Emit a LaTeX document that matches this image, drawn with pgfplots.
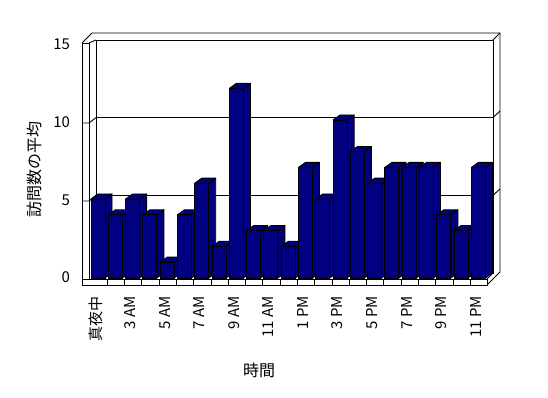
\documentclass[border=0pt]{standalone}
\usepackage{fontspec}
\setmainfont{Noto Sans CJK JP}
\usepackage{pgfplots}
\usepackage{pgfplotstable}
\pgfplotsset{compat=1.18}
\definecolor{barnavy}{RGB}{0,0,128}
\pgfdeclareplotmark{empty}{}
\pgfplotstableread{
hour visits
0 5
1 4
2 5
3 4
4 1
5 4
6 6
7 2
8 12
9 3
10 3
11 2
12 7
13 5
14 10
15 8
16 6
17 7
18 7
19 7
20 4
21 3
22 7
}\datatable
\begin{document}
\begin{tikzpicture}[font=\fontsize{15bp}{18bp}\selectfont, line width=0.9bp]
\useasboundingbox (0,0) rectangle (548bp,398bp);
\fill[white] (0,0) rectangle (548bp,398bp);
% back wall
\begin{axis}[at={(96bp,125bp)}, anchor=south west, scale only axis,
  width=397bp, height=233bp, xmin=0, xmax=1, ymin=0, ymax=15,
  xtick=\empty, ytick={0,5,10,15}, yticklabels={0,5,10,15},
  major tick length=0pt, ymajorgrids,
  grid style={black,line width=0.9bp},
  axis line style={black,line width=0.9bp},
  yticklabel style={xshift=-22.5bp,yshift=-4.5bp}]
\end{axis}
% walls and floor
\begin{scope}[x=1bp,y=-1bp,yshift=398bp,line width=0.9bp,line join=round]
  \draw[fill=white] (82,43) rectangle (89,285);
  \draw (89,43) -- (96,40);
  \draw (82,43) -- (92,33) -- (500,33) -- (500,272) -- (487,285);
  \draw (493,40) -- (500,33);
  \draw[fill=white] (82,279) rectangle (487,285);
  \foreach \k in {0,...,21} { \draw ({107.3+17.29*\k},279) -- ({107.3+17.29*\k},285); }
  \draw (487,279) -- (493,273);
  \draw (82,123) -- (89,123) -- (96,117.7);
  \draw (82,201) -- (89,201) -- (96,195.3);
  \draw (493,117.7) -- (500,111);
  \draw (493,195.3) -- (500,189);
\end{scope}
% bars
\begin{axis}[at={(80.71bp,120bp)}, anchor=south west, x=17.29bp, y=15.8bp,
  xmin=-1, xmax=23, ymin=0, ymax=15, clip=false,
  axis line style={draw=none}, ytick=\empty,
  xtick={0,2,...,22},
  xticklabels={真夜中,3 AM,5 AM,7 AM,9 AM,11 AM,1 PM,3 PM,5 PM,7 PM,9 PM,11 PM},
  major tick length=0pt,
  xticklabel style={yshift=-14.5bp,xshift=-2.5bp,rotate=90,anchor=east},
  xlabel={時間}, ylabel={訪問数の平均},
  xlabel style={at={(rel axis cs:0.43,-0.392)},anchor=center,font=\fontsize{16bp}{19bp}\selectfont},
  ylabel style={at={(rel axis cs:-0.1126,0.456)},anchor=center,font=\fontsize{16bp}{19bp}\selectfont}]
\addplot[ybar, bar width=14bp, bar shift=0pt, fill=barnavy, draw=black, line width=0.9bp]
  table[x=hour,y=visits]{\datatable};
\addplot[only marks, mark=empty, scatter, point meta=y,
  visualization depends on={rawy \as \val},
  scatter/@pre marker code/.code={%
    \pgfmathsetmacro\h{\val*15.8}%
    \filldraw[fill=barnavy,draw=black,line width=0.9bp,line join=round]
      (7bp,0pt) -- (14bp,5bp) -- (14bp,{(5-\h)*1bp}) -- (7bp,{-\h*1bp}) -- cycle;
    \filldraw[fill=barnavy,draw=black,line width=0.9bp,line join=round]
      (-7bp,0pt) -- (0bp,5bp) -- (14bp,5bp) -- (7bp,0pt) -- cycle;
    \filldraw[fill=barnavy,draw=black,line width=0.9bp]
      (-7bp,{-\h*1bp}) rectangle (7bp,0pt);
  },
  scatter/@post marker code/.code={}]
  table[x=hour,y=visits]{\datatable};
\end{axis}
\end{tikzpicture}
\end{document}
